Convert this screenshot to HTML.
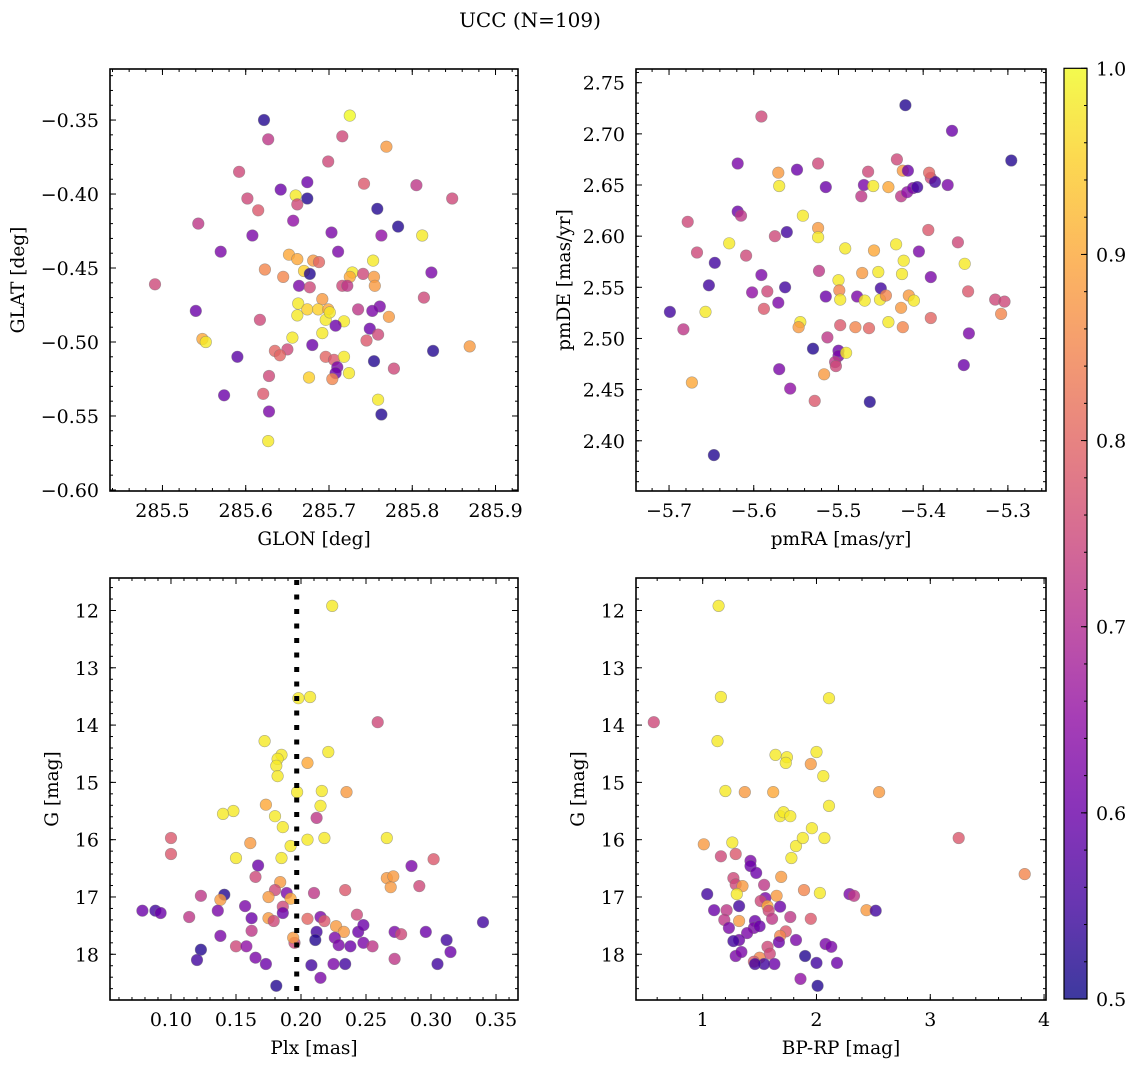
<!DOCTYPE html>
<html><head><meta charset="utf-8"><style>
html,body{margin:0;padding:0;background:#fff;}
svg{display:block;font-family:"DejaVu Serif","Liberation Serif",serif;}
</style></head><body>
<svg id="fig" width="1136" height="1068" viewBox="0 0 1136 1068" xmlns="http://www.w3.org/2000/svg">
<text x="530" y="27" text-anchor="middle" font-size="20">UCC (N=109)</text>
</svg>
<script>
// Panel 1: GLON / GLAT
const glon=[285.622,285.725,285.627,285.716,285.699,285.592,285.769,285.642,285.674,285.660,285.662,285.674,285.602,285.615,285.742,285.805,285.848,285.758,285.657,285.543,285.608,285.703,285.763,285.783,285.812,285.570,285.711,285.652,285.662,285.681,285.688,285.623,285.645,285.670,285.677,285.728,285.725,285.753,285.741,285.754,285.823,285.491,285.664,285.716,285.722,285.755,285.677,285.663,285.692,285.761,285.814,285.540,285.662,285.674,285.687,285.699,285.696,285.701,285.718,285.735,285.752,285.772,285.617,285.708,285.692,285.749,285.759,285.745,285.548,285.552,285.656,285.680,285.650,285.635,285.641,285.696,285.706,285.718,285.590,285.754,285.710,285.708,285.724,285.676,285.704,285.778,285.825,285.869,285.759,285.628,285.621,285.574,285.628,285.763,285.627];
const glat=[-0.350,-0.347,-0.363,-0.361,-0.378,-0.385,-0.368,-0.397,-0.392,-0.401,-0.407,-0.403,-0.403,-0.411,-0.393,-0.394,-0.403,-0.410,-0.418,-0.420,-0.428,-0.426,-0.428,-0.422,-0.428,-0.439,-0.439,-0.441,-0.444,-0.445,-0.446,-0.451,-0.456,-0.452,-0.454,-0.453,-0.456,-0.445,-0.454,-0.456,-0.453,-0.461,-0.462,-0.462,-0.462,-0.462,-0.463,-0.474,-0.471,-0.476,-0.470,-0.479,-0.482,-0.478,-0.478,-0.478,-0.485,-0.480,-0.486,-0.478,-0.479,-0.483,-0.485,-0.489,-0.494,-0.491,-0.495,-0.499,-0.498,-0.500,-0.497,-0.502,-0.505,-0.506,-0.509,-0.510,-0.512,-0.510,-0.510,-0.513,-0.517,-0.521,-0.521,-0.524,-0.525,-0.518,-0.506,-0.503,-0.539,-0.523,-0.535,-0.536,-0.547,-0.549,-0.567];
const prob1=[.52,1,.72,.75,.75,.75,.88,.6,.6,.98,.75,.52,.75,.78,.78,.72,.75,.52,.65,.72,.62,.62,.65,.52,.98,.62,.62,.9,.9,.88,.8,.85,.85,.95,.52,.98,.9,.98,.75,.88,.62,.75,.62,.75,.72,.88,.75,.98,.88,.62,.75,.6,.98,.95,.95,.9,.98,.98,.98,.72,.62,.88,.75,.6,.98,.6,.75,.78,.9,.98,.98,.6,.75,.8,.8,.8,.78,.98,.58,.52,.62,.6,.98,.95,.85,.75,.52,.88,.98,.75,.78,.6,.62,.52,.98];
// Panel 2: pmRA / pmDE
const pmra=[-5.591,-5.421,-5.296,-5.366,-5.619,-5.571,-5.549,-5.524,-5.570,-5.515,-5.470,-5.465,-5.473,-5.431,-5.424,-5.418,-5.441,-5.459,-5.426,-5.419,-5.412,-5.407,-5.391,-5.386,-5.371,-5.393,-5.619,-5.615,-5.678,-5.542,-5.561,-5.524,-5.524,-5.629,-5.609,-5.575,-5.667,-5.646,-5.492,-5.432,-5.458,-5.405,-5.394,-5.359,-5.391,-5.351,-5.591,-5.523,-5.500,-5.472,-5.453,-5.425,-5.423,-5.563,-5.584,-5.602,-5.653,-5.499,-5.498,-5.478,-5.451,-5.469,-5.450,-5.444,-5.417,-5.411,-5.426,-5.347,-5.315,-5.304,-5.308,-5.515,-5.571,-5.588,-5.699,-5.657,-5.545,-5.547,-5.498,-5.480,-5.464,-5.441,-5.424,-5.391,-5.683,-5.513,-5.346,-5.352,-5.530,-5.500,-5.500,-5.504,-5.503,-5.491,-5.570,-5.517,-5.673,-5.557,-5.528,-5.463,-5.647];
const pmde=[2.717,2.728,2.674,2.703,2.671,2.662,2.665,2.671,2.649,2.648,2.650,2.663,2.639,2.675,2.664,2.664,2.648,2.649,2.639,2.643,2.647,2.648,2.657,2.653,2.650,2.662,2.624,2.620,2.614,2.620,2.604,2.608,2.599,2.593,2.581,2.600,2.584,2.574,2.588,2.592,2.586,2.585,2.606,2.594,2.560,2.573,2.562,2.566,2.557,2.564,2.565,2.563,2.576,2.550,2.546,2.545,2.552,2.547,2.538,2.541,2.538,2.537,2.549,2.542,2.542,2.537,2.530,2.546,2.538,2.536,2.524,2.541,2.535,2.529,2.526,2.526,2.516,2.511,2.513,2.511,2.510,2.516,2.511,2.520,2.509,2.501,2.505,2.474,2.490,2.488,2.483,2.477,2.473,2.486,2.470,2.465,2.457,2.451,2.439,2.438,2.386];
const prob2=[.75,.52,.52,.6,.62,.88,.6,.75,.98,.6,.62,.75,.72,.75,.88,.6,.9,.98,.72,.65,.62,.55,.75,.55,.62,.8,.6,.72,.75,.98,.55,.88,.98,.98,.75,.75,.75,.55,.98,.98,.9,.62,.78,.75,.62,.98,.62,.72,.98,.88,.98,.98,.98,.55,.75,.65,.55,.85,.98,.62,.98,.98,.55,.85,.88,.98,.88,.78,.75,.75,.85,.6,.62,.78,.55,.98,.98,.88,.78,.85,.8,.98,.85,.8,.72,.72,.62,.6,.52,.6,.62,.72,.75,.98,.62,.88,.9,.65,.78,.52,.52];
// Panel 3: Plx / G
const plx=[0.224,0.198,0.207,0.259,0.172,0.185,0.182,0.181,0.221,0.205,0.182,0.197,0.216,0.235,0.148,0.140,0.173,0.180,0.215,0.212,0.186,0.192,0.205,0.218,0.266,0.302,0.100,0.100,0.161,0.150,0.167,0.185,0.165,0.184,0.180,0.189,0.210,0.234,0.266,0.269,0.271,0.285,0.291,0.123,0.141,0.138,0.175,0.192,0.186,0.186,0.078,0.088,0.092,0.114,0.136,0.157,0.162,0.175,0.179,0.205,0.215,0.218,0.227,0.243,0.244,0.248,0.233,0.212,0.226,0.229,0.238,0.248,0.255,0.272,0.277,0.296,0.312,0.315,0.340,0.150,0.138,0.158,0.162,0.165,0.123,0.120,0.173,0.195,0.194,0.211,0.208,0.225,0.234,0.215,0.181,0.272,0.305];
const gmag3=[11.92,13.53,13.51,13.95,14.28,14.52,14.59,14.71,14.47,14.66,14.89,15.17,15.15,15.17,15.50,15.55,15.39,15.59,15.41,15.62,15.78,16.11,16.00,15.97,15.97,16.34,15.97,16.25,16.06,16.32,16.45,16.32,16.65,16.74,16.88,16.93,16.93,16.88,16.67,16.83,16.64,16.46,16.81,16.98,16.96,17.05,17.00,17.03,17.17,17.28,17.24,17.24,17.28,17.35,17.24,17.16,17.37,17.37,17.42,17.38,17.35,17.42,17.51,17.31,17.61,17.49,17.61,17.61,17.71,17.84,17.86,17.80,17.86,17.61,17.65,17.61,17.75,17.96,17.44,17.86,17.68,17.86,17.59,18.06,17.92,18.10,18.17,17.80,17.71,17.75,18.19,18.17,18.17,18.41,18.55,18.08,18.17];
const prob3=[.98,.98,.98,.75,.98,.98,.98,.98,.98,.9,.98,.98,.98,.88,.98,.98,.9,.98,.98,.72,.98,.98,.98,.98,.98,.78,.78,.78,.88,.98,.6,.98,.75,.88,.75,.62,.72,.78,.88,.88,.88,.62,.75,.72,.52,.88,.88,.9,.75,.6,.6,.55,.6,.72,.62,.62,.6,.88,.75,.8,.62,.78,.88,.75,.6,.6,.88,.55,.62,.62,.6,.62,.72,.62,.75,.6,.55,.6,.55,.75,.62,.65,.72,.62,.52,.55,.6,.75,.88,.52,.55,.62,.55,.62,.52,.72,.55];
const plxLine=[0.1967];
// Panel 4: BP-RP / G
const bprp=[1.14,1.16,2.11,0.57,1.13,1.64,1.74,1.73,2.00,1.95,2.06,1.20,1.37,1.62,2.55,2.11,1.68,1.71,1.77,1.96,1.01,1.26,1.29,1.16,1.82,1.88,2.07,3.25,3.83,1.42,1.78,1.42,1.47,1.69,1.27,1.29,1.35,1.54,1.89,1.04,1.30,1.65,1.55,2.03,2.29,2.33,1.51,1.57,1.58,1.10,1.21,1.32,1.68,2.44,2.52,1.19,1.23,1.32,1.46,1.61,1.77,1.95,1.45,1.50,1.73,1.68,1.39,1.32,1.27,1.67,1.82,2.08,2.13,2.18,2.00,1.90,1.57,1.59,1.50,1.45,1.63,1.54,1.46,1.29,1.34,1.86,2.01];
const gmag4=[11.92,13.51,13.53,13.95,14.28,14.52,14.56,14.66,14.47,14.68,14.89,15.15,15.17,15.17,15.17,15.41,15.59,15.52,15.59,15.80,16.08,16.05,16.25,16.29,16.11,15.97,15.97,15.97,16.60,16.37,16.32,16.46,16.58,16.65,16.67,16.78,16.81,16.79,16.88,16.95,16.95,16.98,17.02,16.93,16.95,16.98,17.07,17.16,17.24,17.23,17.23,17.16,17.17,17.23,17.24,17.40,17.54,17.42,17.42,17.38,17.35,17.38,17.54,17.51,17.60,17.68,17.63,17.75,17.77,17.79,17.75,17.82,17.87,18.15,18.15,18.03,17.87,17.99,18.06,18.13,18.17,18.17,18.17,18.03,17.96,18.43,18.55];
const prob4=[.98,.98,.98,.75,.98,.98,.98,.98,.98,.88,.98,.98,.88,.9,.88,.98,.98,.98,.98,.98,.88,.98,.78,.75,.98,.98,.98,.78,.85,.62,.98,.6,.6,.88,.75,.75,.88,.72,.85,.55,.98,.88,.62,.98,.62,.72,.75,.9,.75,.6,.72,.55,.6,.88,.55,.72,.62,.88,.6,.72,.72,.78,.62,.6,.78,.85,.62,.6,.55,.6,.62,.62,.62,.6,.55,.52,.75,.75,.85,.78,.6,.55,.55,.62,.62,.65,.52];
// tick labels
const t1x=[285.5,285.6,285.7,285.8,285.9], t1xl=["285.5","285.6","285.7","285.8","285.9"];
const t1y=[-0.35,-0.40,-0.45,-0.50,-0.55,-0.60], t1yl=["\u22120.35","\u22120.40","\u22120.45","\u22120.50","\u22120.55","\u22120.60"];
const t2x=[-5.7,-5.6,-5.5,-5.4,-5.3], t2xl=["\u22125.7","\u22125.6","\u22125.5","\u22125.4","\u22125.3"];
const t2y=[2.40,2.45,2.50,2.55,2.60,2.65,2.70,2.75], t2yl=["2.40","2.45","2.50","2.55","2.60","2.65","2.70","2.75"];
const t3x=[0.10,0.15,0.20,0.25,0.30,0.35], t3xl=["0.10","0.15","0.20","0.25","0.30","0.35"];
const tGy=[12,13,14,15,16,17,18], tGyl=["12","13","14","15","16","17","18"];
const t4x=[1,2,3,4], t4xl=["1","2","3","4"];
const cbT=[0.5,0.6,0.7,0.8,0.9,1.0], cbTl=["0.5","0.6","0.7","0.8","0.9","1.0"];

const NS="http://www.w3.org/2000/svg";
const svg=document.getElementById('fig');
const FS=19;
function mk(tag,attrs,parent){const e=document.createElementNS(NS,tag);for(const k in attrs)e.setAttribute(k,attrs[k]);(parent||svg).appendChild(e);return e;}
const plasma=[[13,8,135],[65,4,157],[106,0,168],[143,13,164],[177,42,144],[204,71,120],[225,100,98],[242,132,75],[252,166,54],[252,206,37],[240,249,33]];
function cmap(p){let t=(p-0.5)/0.5;t=Math.max(0,Math.min(1,t))*10;const i=Math.min(9,Math.floor(t)),f=t-i;const a=plasma[i],b=plasma[i+1];return 'rgb('+a.map((v,k)=>Math.round(v+(b[k]-v)*f)).join(',')+')';}

function panel(cfg){
  const {name,x0,x1,y0,y1,xa,xb,ya,yb}=cfg;
  const sx=v=>x0+(v-xa)/(xb-xa)*(x1-x0);
  const sy=v=>y0+(v-ya)/(yb-ya)*(y1-y0);
  const g=mk('g',{});
  
  
  const pts=mk('g',{},g);
  
  
  cfg.xs.forEach((v,i)=>{
    const c=mk('circle',{cx:sx(v).toFixed(1),cy:sy(cfg.ys[i]).toFixed(1),r:5.8,fill:cmap(cfg.ps[i]),'fill-opacity':0.8,stroke:'#777','stroke-opacity':0.6,'stroke-width':0.6},pts);
    
    
  });
  if(cfg.vline){cfg.vline.forEach(v=>{const l=mk('line',{x1:sx(v),x2:sx(v),y1:y0+2,y2:y1,stroke:'#000','stroke-width':5,'stroke-dasharray':'5 9.5'},g);
    
    });}
  const ax=mk('g',{stroke:'#000','stroke-width':1},g);
  
  
  const mx=cfg.mx,my=cfg.my;
  for(let v=Math.ceil(Math.min(xa,xb)/mx-1e-6)*mx;v<=Math.max(xa,xb)+1e-9;v+=mx){const X=sx(v);mk('line',{x1:X,x2:X,y1:y1,y2:y1-3},ax);mk('line',{x1:X,x2:X,y1:y0,y2:y0+3},ax);}
  for(let v=Math.ceil(Math.min(ya,yb)/my-1e-6)*my;v<=Math.max(ya,yb)+1e-9;v+=my){const Y=sy(v);mk('line',{x1:x0,x2:x0+3,y1:Y,y2:Y},ax);mk('line',{x1:x1,x2:x1-3,y1:Y,y2:Y},ax);}
  cfg.tx.forEach((v,i)=>{const X=sx(v);mk('line',{x1:X,x2:X,y1:y1,y2:y1-6},ax);mk('line',{x1:X,x2:X,y1:y0,y2:y0+6},ax);
    const t=mk('text',{x:X,y:y1+26,'text-anchor':'middle','font-size':FS,stroke:'none'},g);t.textContent=cfg.txl[i];
    
    });
  cfg.ty.forEach((v,i)=>{const Y=sy(v);mk('line',{x1:x0,x2:x0+6,y1:Y,y2:Y},ax);mk('line',{x1:x1,x2:x1-6,y1:Y,y2:Y},ax);
    const t=mk('text',{x:x0-11,y:Y+7,'text-anchor':'end','font-size':FS,stroke:'none'},g);t.textContent=cfg.tyl[i];
    
    });
  mk('rect',{x:x0,y:y0,width:x1-x0,height:y1-y0,fill:'none',stroke:'#000','stroke-width':1.6},g);
  const xl=mk('text',{x:(x0+x1)/2,y:y1+54,'text-anchor':'middle','font-size':18.5},g);xl.textContent=cfg.xlab;
  
  
  const yx=cfg.ylx,yc=(y0+y1)/2;
  const yl=mk('text',{x:yx,y:yc,'text-anchor':'middle','font-size':18.5,transform:'rotate(-90 '+yx+' '+yc+')'},g);yl.textContent=cfg.ylab;
  
  
}
panel({name:'glon-glat-panel',x0:110,x1:518,y0:69,y1:491,xa:285.437,xb:285.927,ya:-0.3155,yb:-0.6007,mx:0.02,my:0.01,xs:glon,ys:glat,ps:prob1,tx:t1x,txl:t1xl,ty:t1y,tyl:t1yl,xlab:'GLON [deg]',ylab:'GLAT [deg]',ylx:24});
panel({name:'pm-panel',x0:636,x1:1046,y0:69,y1:491,xa:-5.739,xb:-5.255,ya:2.7634,yb:2.3509,mx:0.02,my:0.01,xs:pmra,ys:pmde,ps:prob2,tx:t2x,txl:t2xl,ty:t2y,tyl:t2yl,xlab:'pmRA [mas/yr]',ylab:'pmDE [mas/yr]',ylx:570});
panel({name:'plx-g-panel',x0:110,x1:518,y0:578,y1:1000,xa:0.0531,xb:0.3669,ya:11.433,yb:18.798,mx:0.01,my:0.2,xs:plx,ys:gmag3,ps:prob3,tx:t3x,txl:t3xl,ty:tGy,tyl:tGyl,xlab:'Plx [mas]',ylab:'G [mag]',ylx:58,vline:plxLine});
panel({name:'cmd-panel',x0:636,x1:1046,y0:578,y1:1000,xa:0.414,xb:4.017,ya:11.433,yb:18.798,mx:0.2,my:0.2,xs:bprp,ys:gmag4,ps:prob4,tx:t4x,txl:t4xl,ty:tGy,tyl:tGyl,xlab:'BP-RP [mag]',ylab:'G [mag]',ylx:584});

// colorbar
const cb=mk('g',{});


const defs=mk('defs',{},cb);
const lg=mk('linearGradient',{id:'pl',x1:0,y1:1,x2:0,y2:0},defs);
plasma.forEach((c,i)=>mk('stop',{offset:(i/10),'stop-color':'rgb('+c.join(',')+')'},lg));
const cbx0=1064,cbx1=1087,cby0=68.3,cby1=999;
const cy=v=>cby1-(v-0.5)/0.5*(cby1-cby0);
mk('rect',{x:cbx0,y:cby0,width:cbx1-cbx0,height:cby1-cby0,fill:'url(#pl)','fill-opacity':0.8},cb);
mk('rect',{x:cbx0,y:cby0,width:cbx1-cbx0,height:cby1-cby0,fill:'none',stroke:'#000','stroke-width':1.2},cb);
for(let v=0.5;v<=1.0001;v+=0.02){const Y=cy(v);mk('line',{x1:cbx1,x2:cbx1-3,y1:Y,y2:Y,stroke:'#000','stroke-width':1},cb);}
cbT.forEach((v,i)=>{const Y=cy(v);mk('line',{x1:cbx1,x2:cbx1-6,y1:Y,y2:Y,stroke:'#000','stroke-width':1},cb);
  const t=mk('text',{x:cbx1+9,y:Y+7,'font-size':FS},cb);t.textContent=cbTl[i];
  
  });
</script>
</body></html>
